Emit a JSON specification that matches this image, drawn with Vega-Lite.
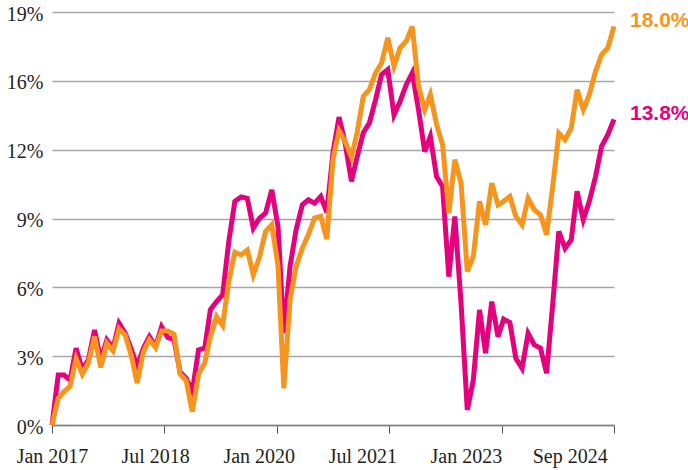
{
  "$schema": "https://vega.github.io/schema/vega-lite/v6.json",
  "width": 562,
  "height": 413,
  "autosize": {"type": "none"},
  "padding": {"left": 52, "top": 12, "right": 74, "bottom": 45},
  "config": {
    "view": {"stroke": null},
    "axis": {"labelFont": "Liberation Serif", "labelFontSize": 20, "labelColor": "#231f20", "title": null}
  },
  "data": {
    "values": [
      {"date": "2017-01-01", "pink": 0, "orange": 0},
      {"date": "2017-02-01", "pink": 2.26, "orange": 1.2},
      {"date": "2017-03-01", "pink": 2.26, "orange": 1.5},
      {"date": "2017-04-01", "pink": 2.03, "orange": 1.75},
      {"date": "2017-05-01", "pink": 3.47, "orange": 3.0},
      {"date": "2017-06-01", "pink": 2.49, "orange": 2.3},
      {"date": "2017-07-01", "pink": 2.94, "orange": 2.8},
      {"date": "2017-08-01", "pink": 4.29, "orange": 4.0},
      {"date": "2017-09-01", "pink": 2.94, "orange": 2.6},
      {"date": "2017-10-01", "pink": 3.84, "orange": 3.7},
      {"date": "2017-11-01", "pink": 3.47, "orange": 3.35},
      {"date": "2017-12-01", "pink": 4.6, "orange": 4.35},
      {"date": "2018-01-01", "pink": 4.14, "orange": 4.05},
      {"date": "2018-02-01", "pink": 3.39, "orange": 3.1},
      {"date": "2018-03-01", "pink": 2.64, "orange": 1.9},
      {"date": "2018-04-01", "pink": 3.47, "orange": 3.3},
      {"date": "2018-05-01", "pink": 3.99, "orange": 3.85},
      {"date": "2018-06-01", "pink": 3.54, "orange": 3.5},
      {"date": "2018-07-01", "pink": 4.44, "orange": 4.25},
      {"date": "2018-08-01", "pink": 3.95, "orange": 4.25},
      {"date": "2018-09-01", "pink": 3.85, "orange": 4.1},
      {"date": "2018-10-01", "pink": 2.4, "orange": 2.3},
      {"date": "2018-11-01", "pink": 2.1, "orange": 2.0},
      {"date": "2018-12-01", "pink": 1.5, "orange": 0.6},
      {"date": "2019-01-01", "pink": 3.39, "orange": 2.3},
      {"date": "2019-02-01", "pink": 3.47, "orange": 2.8},
      {"date": "2019-03-01", "pink": 5.2, "orange": 4.0},
      {"date": "2019-04-01", "pink": 5.57, "orange": 4.9},
      {"date": "2019-05-01", "pink": 5.88, "orange": 4.5},
      {"date": "2019-06-01", "pink": 8.3, "orange": 6.5},
      {"date": "2019-07-01", "pink": 10.1, "orange": 7.8},
      {"date": "2019-08-01", "pink": 10.3, "orange": 7.68},
      {"date": "2019-09-01", "pink": 10.24, "orange": 7.9},
      {"date": "2019-10-01", "pink": 8.89, "orange": 6.78},
      {"date": "2019-11-01", "pink": 9.34, "orange": 7.6},
      {"date": "2019-12-01", "pink": 9.57, "orange": 8.74},
      {"date": "2020-01-01", "pink": 10.62, "orange": 9.04},
      {"date": "2020-02-01", "pink": 8.96, "orange": 7.2},
      {"date": "2020-03-01", "pink": 4.14, "orange": 1.66},
      {"date": "2020-04-01", "pink": 7.16, "orange": 5.65},
      {"date": "2020-05-01", "pink": 8.81, "orange": 7.16},
      {"date": "2020-06-01", "pink": 9.94, "orange": 7.98},
      {"date": "2020-07-01", "pink": 10.17, "orange": 8.59},
      {"date": "2020-08-01", "pink": 10.02, "orange": 9.34},
      {"date": "2020-09-01", "pink": 10.32, "orange": 9.42},
      {"date": "2020-10-01", "pink": 9.6, "orange": 8.4},
      {"date": "2020-11-01", "pink": 12.3, "orange": 12.0},
      {"date": "2020-12-01", "pink": 13.9, "orange": 13.3},
      {"date": "2021-01-01", "pink": 12.7, "orange": 12.8},
      {"date": "2021-02-01", "pink": 11.0, "orange": 12.1},
      {"date": "2021-03-01", "pink": 12.1, "orange": 13.2},
      {"date": "2021-04-01", "pink": 13.2, "orange": 14.84},
      {"date": "2021-05-01", "pink": 13.63, "orange": 15.14},
      {"date": "2021-06-01", "pink": 14.69, "orange": 15.9},
      {"date": "2021-07-01", "pink": 15.82, "orange": 16.35},
      {"date": "2021-08-01", "pink": 16.05, "orange": 17.48},
      {"date": "2021-09-01", "pink": 14.0, "orange": 16.2},
      {"date": "2021-10-01", "pink": 14.61, "orange": 17.03},
      {"date": "2021-11-01", "pink": 15.37, "orange": 17.33},
      {"date": "2021-12-01", "pink": 15.9, "orange": 18.0},
      {"date": "2022-01-01", "pink": 14.24, "orange": 15.29},
      {"date": "2022-02-01", "pink": 12.35, "orange": 14.24},
      {"date": "2022-03-01", "pink": 13.03, "orange": 14.92},
      {"date": "2022-04-01", "pink": 11.22, "orange": 13.56},
      {"date": "2022-05-01", "pink": 10.77, "orange": 12.66},
      {"date": "2022-06-01", "pink": 6.7, "orange": 9.57},
      {"date": "2022-07-01", "pink": 9.42, "orange": 11.98},
      {"date": "2022-08-01", "pink": 5.5, "orange": 10.92},
      {"date": "2022-09-01", "pink": 0.68, "orange": 6.93},
      {"date": "2022-10-01", "pink": 2.03, "orange": 7.61},
      {"date": "2022-11-01", "pink": 5.2, "orange": 10.1},
      {"date": "2022-12-01", "pink": 3.24, "orange": 9.04},
      {"date": "2023-01-01", "pink": 5.57, "orange": 10.92},
      {"date": "2023-02-01", "pink": 3.99, "orange": 9.94},
      {"date": "2023-03-01", "pink": 4.78, "orange": 10.1},
      {"date": "2023-04-01", "pink": 4.63, "orange": 10.32},
      {"date": "2023-05-01", "pink": 3.01, "orange": 9.42},
      {"date": "2023-06-01", "pink": 2.56, "orange": 9.04},
      {"date": "2023-07-01", "pink": 4.14, "orange": 10.24},
      {"date": "2023-08-01", "pink": 3.62, "orange": 9.72},
      {"date": "2023-09-01", "pink": 3.47, "orange": 9.49},
      {"date": "2023-10-01", "pink": 2.34, "orange": 8.59},
      {"date": "2023-11-01", "pink": 5.5, "orange": 10.8},
      {"date": "2023-12-01", "pink": 8.74, "orange": 13.18},
      {"date": "2024-01-01", "pink": 7.98, "orange": 12.88},
      {"date": "2024-02-01", "pink": 8.36, "orange": 13.41},
      {"date": "2024-03-01", "pink": 10.55, "orange": 15.14},
      {"date": "2024-04-01", "pink": 9.27, "orange": 14.24},
      {"date": "2024-05-01", "pink": 10.1, "orange": 14.92},
      {"date": "2024-06-01", "pink": 11.22, "orange": 15.97},
      {"date": "2024-07-01", "pink": 12.58, "orange": 16.72},
      {"date": "2024-08-01", "pink": 13.11, "orange": 17.03},
      {"date": "2024-09-01", "pink": 13.8, "orange": 18.0}
    ]
  },
  "resolve": {"axis": {"x": "independent", "y": "independent"}},
  "layer": [
    {
      "mark": {"type": "line", "color": "#E5007D", "strokeWidth": 5, "strokeJoin": "miter"},
      "encoding": {
        "x": {
          "field": "date", "type": "temporal",
          "scale": {"type": "utc", "domain": [{"year": 2017, "month": 1, "date": 1, "utc": true}, {"year": 2024, "month": 9, "date": 1, "utc": true}], "nice": false},
          "axis": {
            "orient": "bottom",
            "values": [
              {"year": 2017, "month": 1, "date": 1, "utc": true},
              {"year": 2018, "month": 7, "date": 13, "utc": true},
              {"year": 2020, "month": 1, "date": 25, "utc": true},
              {"year": 2021, "month": 8, "date": 7, "utc": true},
              {"year": 2023, "month": 2, "date": 19, "utc": true},
              {"year": 2024, "month": 9, "date": 1, "utc": true}
            ],
            "labels": false, "grid": false, "ticks": true, "tickSize": 8, "tickColor": "#555555", "tickWidth": 1,
            "domain": true, "domainColor": "#7f7f7f", "domainWidth": 1.6, "zindex": 1
          }
        },
        "y": {
          "field": "pink", "type": "quantitative",
          "scale": {"domain": [0, 18.65], "nice": false, "zero": true},
          "axis": {
            "values": [0, 3.1083, 6.2167, 9.325, 12.4333, 15.5417, 18.65],
            "labelExpr": "format(datum.value, '.0f') + '%'",
            "grid": true, "gridColor": "#a6a6a6", "gridWidth": 1.3,
            "ticks": false, "domain": false, "labelPadding": 9, "labelOffset": 2
          }
        }
      }
    },
    {
      "mark": {"type": "line", "color": "#F7941D", "strokeWidth": 5, "strokeJoin": "miter"},
      "encoding": {
        "x": {
          "field": "date", "type": "temporal",
          "axis": {
            "orient": "bottom",
            "values": [
              {"year": 2017, "month": 1, "date": 1, "utc": true},
              {"year": 2018, "month": 5, "date": 30, "utc": true},
              {"year": 2019, "month": 10, "date": 28, "utc": true},
              {"year": 2021, "month": 3, "date": 27, "utc": true},
              {"year": 2022, "month": 8, "date": 25, "utc": true},
              {"year": 2024, "month": 1, "date": 24, "utc": true}
            ],
            "labelExpr": "['Jan 2017','Jul 2018','Jan 2020','Jul 2021','Jan 2023','Sep 2024'][round((datum.value - utc(2017,0,1)) / (utc(2024,0,24) - utc(2017,0,1)) * 5)]",
            "ticks": false, "tickSize": 0, "domain": false, "grid": false,
            "labelPadding": 21, "labelBaseline": "top", "labelFlush": false, "labelOverlap": false
          }
        },
        "y": {"field": "orange", "type": "quantitative", "axis": null}
      }
    },
    {
      "transform": [
        {"filter": "utcyear(datum.date) == 2024 && utcmonth(datum.date) == 8"},
        {"fold": ["orange", "pink"], "as": ["series", "val"]},
        {"calculate": "format(datum.val, '.1f') + '%'", "as": "label"}
      ],
      "mark": {"type": "text", "align": "left", "baseline": "middle", "dx": 16, "dy": -5, "font": "Liberation Sans", "fontWeight": "bold", "fontSize": 21},
      "encoding": {
        "x": {"field": "date", "type": "temporal", "axis": null},
        "y": {"field": "val", "type": "quantitative", "axis": null},
        "text": {"field": "label"},
        "color": {"field": "series", "type": "nominal", "scale": {"domain": ["orange", "pink"], "range": ["#F7941D", "#E5007D"]}, "legend": null}
      }
    }
  ]
}
